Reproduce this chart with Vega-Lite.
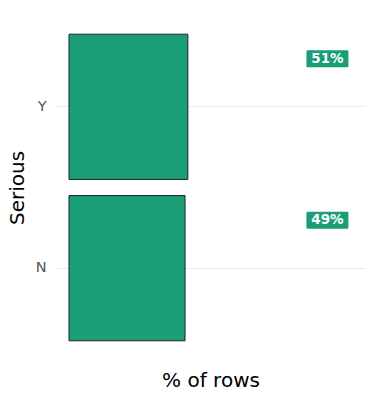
{
  "$schema": "https://vega.github.io/schema/vega-lite/v6.json",
  "width": 309,
  "height": 355,
  "autosize": {"type": "none"},
  "padding": {"left": 56, "top": 10, "right": 10, "bottom": 35},
  "background": "white",
  "config": {"view": {"stroke": null}},
  "data": {"values": [
    {"Serious": "Y", "pct": 50.6, "label": "51%"},
    {"Serious": "N", "pct": 49.4, "label": "49%"}
  ]},
  "encoding": {
    "y": {
      "field": "Serious", "type": "nominal", "sort": ["Y", "N"],
      "scale": {"paddingInner": 0.1, "paddingOuter": 0.15},
      "axis": {"title": "Serious", "domain": false, "ticks": false, "grid": true, "gridColor": "#ebebeb", "gridWidth": 1,
        "labelColor": "#555555", "labelFontSize": 14.5, "labelFont": "DejaVu Sans", "labelPadding": 10,
        "titleFont": "DejaVu Sans", "titleFontSize": 20, "titleFontWeight": "normal", "titleColor": "black", "titlePadding": 8}
    }
  },
  "layer": [
    {
      "mark": {"type": "bar", "color": "#1b9e77", "stroke": "#222222", "strokeWidth": 1},
      "encoding": {
        "x": {"field": "pct", "type": "quantitative",
          "scale": {"domain": [-5.53, 126], "nice": false, "zero": false},
          "axis": {"title": "% of rows", "labels": false, "ticks": false, "domain": false, "grid": false,
            "titleFont": "DejaVu Sans", "titleFontSize": 20, "titleFontWeight": "normal", "titleColor": "black", "titlePadding": 5}}
      }
    },
    {
      "mark": {"type": "point", "shape": "M-0.94,-0.405H0.94Q1,-0.405 1,-0.345V0.345Q1,0.405 0.94,0.405H-0.94Q-1,0.405 -1,0.345V-0.345Q-1,-0.405 -0.94,-0.405Z", "size": 1764, "filled": true, "color": "#1b9e77", "opacity": 1, "yOffset": -48},
      "encoding": {"x": {"datum": 110, "type": "quantitative"}}
    },
    {
      "mark": {"type": "text", "color": "white", "fontWeight": "bold", "font": "DejaVu Sans", "fontSize": 13.5, "align": "center", "baseline": "middle", "yOffset": -48},
      "encoding": {"x": {"datum": 110, "type": "quantitative"}, "text": {"field": "label"}}
    }
  ]
}
